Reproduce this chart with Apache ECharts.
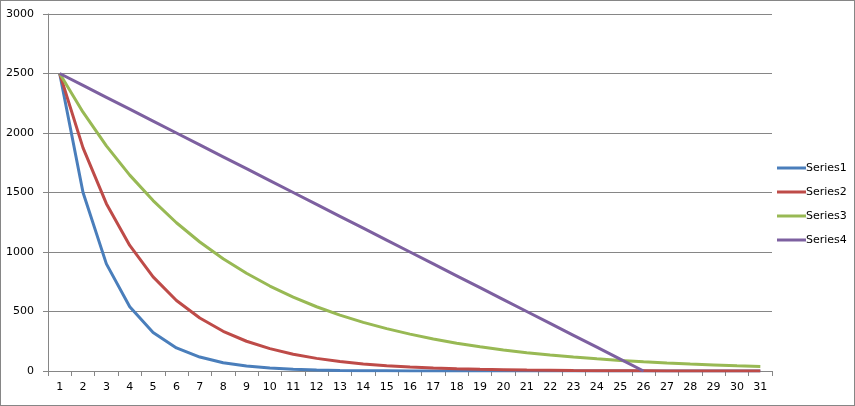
<!DOCTYPE html>
<html><head><meta charset="utf-8">
<script src="https://cdn.jsdelivr.net/npm/echarts@6/dist/echarts.min.js"></script>
<style>
html,body{margin:0;padding:0;background:#fff;}
#c{width:855px;height:406px;box-sizing:border-box;border:1px solid #868686;}
</style></head><body>
<div id="c"></div>
<script>
var categories = ['1','2','3','4','5','6','7','8','9','10','11','12','13','14','15','16','17','18','19','20','21','22','23','24','25','26','27','28','29','30','31'];
var series1 = [2500,1500,900,540,324,194,117,70,42,25,15,9,5,3,2,1,1,0,0,0,0,0,0,0,0,0,0,0,0,0,0];
var series2 = [2500,1875,1406,1055,791,593,445,334,250,188,141,106,79,59,45,33,25,19,14,11,8,6,4,3,3,2,1,1,1,1,0];
var series3 = [2500,2175,1892,1646,1432,1246,1084,943,821,714,621,540,470,409,356,310,269,234,204,177,154,134,117,102,88,77,67,58,51,44,38];
var series4 = [2500,2400,2300,2200,2100,2000,1900,1800,1700,1600,1500,1400,1300,1200,1100,1000,900,800,700,600,500,400,300,200,100,0,null,null,null,null,null];
var seriesNames = ['Series1','Series2','Series3','Series4'];
var colors = ['#4A7EBB','#BE4B48','#98B954','#7D60A0'];

var chart = echarts.init(document.getElementById('c'), null, {renderer:'canvas'});
var font = 'Tahoma, "DejaVu Sans", sans-serif';
function mk(name, data, i){
  return {name:name, type:'line', data:data, symbol:'none', smooth:false,
    lineStyle:{width:3, color:colors[i]}, itemStyle:{color:colors[i]}, animation:false};
}
chart.setOption({
  animation:false,
  grid:{left:47, right:82, top:13, bottom:34, containLabel:false},
  legend:{orient:'vertical', left:771, top:155, itemGap:10, itemWidth:29, itemHeight:14,
    icon:'path://M0,6 L29,6 L29,9 L0,9 Z',
    textStyle:{fontFamily:font, fontSize:11, color:'#000', padding:[0,0,0,-5], height:14, lineHeight:14},
    data:seriesNames},
  xAxis:{type:'category', data:categories, boundaryGap:true,
    axisLine:{lineStyle:{color:'#868686', width:1}},
    axisTick:{show:true, length:5, lineStyle:{color:'#868686'}, inside:false},
    axisLabel:{fontFamily:font, fontSize:11, color:'#000', margin:11, interval:0},
    splitLine:{show:false}},
  yAxis:{type:'value', min:0, max:3000, interval:500,
    axisLine:{show:true, lineStyle:{color:'#868686', width:1}},
    axisTick:{show:true, length:5, lineStyle:{color:'#868686'}},
    axisLabel:{fontFamily:font, fontSize:11, color:'#000', margin:14, formatter:function(v){return String(v);}},
    splitLine:{show:true, lineStyle:{color:'#868686', width:1}}},
  series:[mk(seriesNames[0],series1,0), mk(seriesNames[1],series2,1), mk(seriesNames[2],series3,2), mk(seriesNames[3],series4,3)]
});
</script></body></html>
